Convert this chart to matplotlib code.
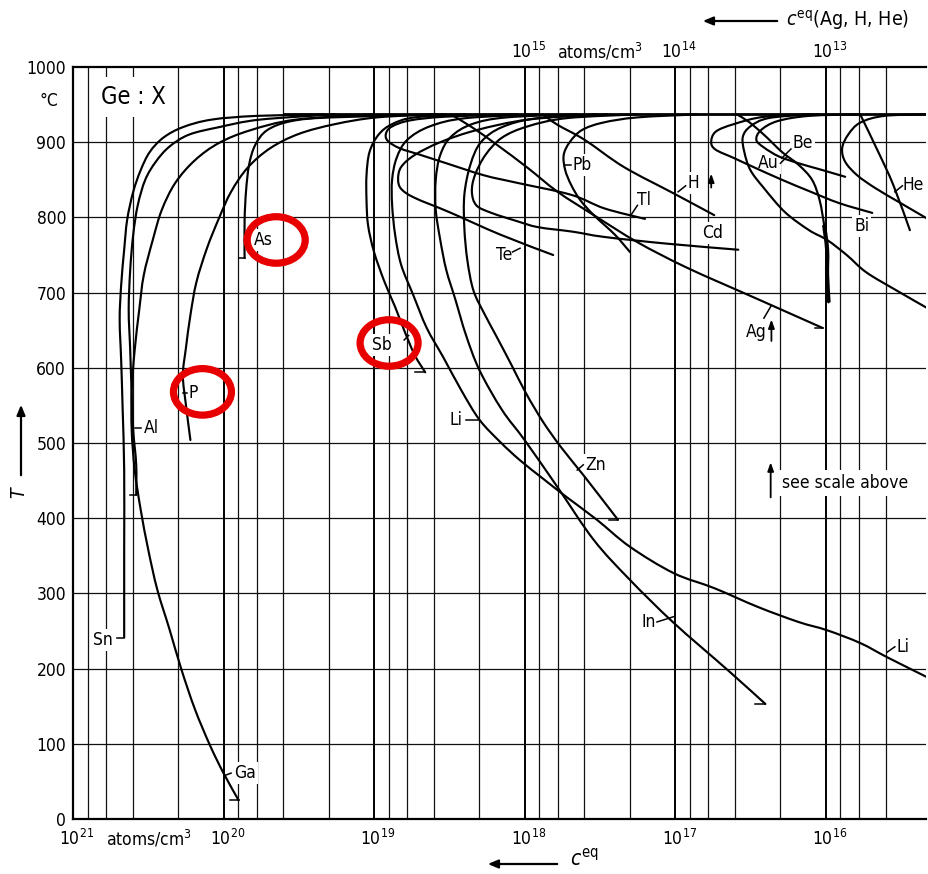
import numpy as np
import matplotlib
matplotlib.use("Agg")
import matplotlib.pyplot as plt
from matplotlib.patches import Ellipse, PathPatch, FancyArrowPatch
from matplotlib.path import Path
from matplotlib.transforms import ScaledTranslation, blended_transform_factory, offset_copy

plt.rcParams["font.family"] = ["DejaVu Sans"]
plt.rcParams["font.stretch"] = "condensed"

T_MELT = 937  # melting point of Ge in °C

# Equilibrium solubility of impurities in Ge.
# *_lg: log10 of c_eq in atoms/cm^3, *_t: temperature in °C.
sn_lg = [19.33, 19.78, 20.08, 20.27, 20.40, 20.49, 20.55, 20.60, 20.64, 20.66, 20.68, 20.69, 20.68, 20.67, 20.66, 20.66, 20.66]
sn_t = [937, 935, 930, 920, 906, 887, 863, 834, 797, 757, 710, 664, 610, 544, 464, 358, 241]

al_lg = [19.26, 19.76, 20.03, 20.23, 20.36, 20.45, 20.52, 20.57, 20.60, 20.62, 20.63, 20.62, 20.61, 20.60, 20.58, 20.58]
al_t = [937, 930, 920, 910, 894, 874, 850, 816, 777, 730, 677, 624, 564, 517, 471, 431]

ga_lg = [19.00, 19.52, 19.82, 20.03, 20.19, 20.32, 20.41, 20.47, 20.53, 20.56, 20.59, 20.61, 20.61, 20.59,
         20.55, 20.50, 20.44, 20.36, 20.28, 20.19, 20.09, 20.00, 19.90]
ga_t = [937, 930, 916, 899, 876, 846, 810, 770, 723, 677, 624, 570, 517, 464, 411, 358, 305, 253, 199, 146, 98, 61, 25]

p_lg = [18.59, 18.98, 19.26, 19.50, 19.69, 19.84, 19.95, 20.03, 20.11, 20.18, 20.22, 20.25, 20.27, 20.25, 20.22]
p_t = [937, 933, 924, 911, 892, 866, 834, 799, 759, 714, 670, 626, 590, 551, 504]

as_lg = [18.52, 19.28, 19.55, 19.71, 19.79, 19.83, 19.85, 19.86, 19.86]
as_t = [937, 933, 928, 916, 896, 870, 836, 796, 746]

sb_lg = [18.39, 18.73, 18.88, 18.97, 19.03, 19.05, 19.05, 19.04, 19.00, 18.93, 18.86, 18.80, 18.73, 18.66]
sb_t = [937, 933, 924, 910, 887, 856, 823, 790, 754, 714, 681, 650, 617, 594]

li_lg = [17.91, 18.39, 18.63, 18.78, 18.85, 18.88, 18.88, 18.86, 18.82, 18.74, 18.65, 18.54, 18.42, 18.30,
         18.16, 18.03, 17.88, 17.72, 17.52, 17.30, 17.01, 16.74, 16.45, 16.18, 15.99, 15.77, 15.59, 15.33]
li_t = [937, 932, 921, 903, 879, 850, 817, 777, 737, 697, 653, 614, 570, 531,
        501, 477, 453, 428, 398, 362, 327, 307, 282, 262, 251, 234, 215, 189]

in_lg = [17.65, 18.12, 18.35, 18.49, 18.56, 18.59, 18.59, 18.56, 18.52, 18.46, 18.39, 18.30, 18.15, 18.00,
         17.78, 17.54, 17.30, 17.01, 16.65, 16.40]
in_t = [937, 933, 924, 907, 883, 850, 810, 770, 730, 691, 644, 597, 544, 504, 441, 371, 318, 261, 198, 153]

zn_lg = [17.45, 17.91, 18.15, 18.29, 18.36, 18.40, 18.40, 18.38, 18.34, 18.27, 18.19, 18.09, 17.99, 17.88, 17.76, 17.60, 17.38]
zn_t = [937, 932, 920, 900, 870, 830, 786, 743, 703, 673, 643, 605, 566, 529, 495, 455, 398]

te_lg = [17.52, 17.98, 18.32, 18.56, 18.73, 18.82, 18.84, 18.82, 18.73, 18.50, 18.16, 17.81]
te_t = [937, 930, 916, 900, 883, 867, 851, 838, 826, 807, 777, 750]

tl_lg = [18.05, 18.52, 18.76, 18.88, 18.92, 18.91, 18.83, 18.69, 18.52, 18.27, 18.05, 17.69, 17.47, 17.20]
tl_t = [937, 934, 929, 921, 912, 902, 892, 883, 872, 856, 846, 830, 812, 798]

pb_lg = [16.85, 17.25, 17.48, 17.62, 17.70, 17.74, 17.73, 17.69, 17.63, 17.54, 17.40, 17.30]
pb_t = [937, 933, 926, 916, 900, 883, 863, 843, 823, 803, 777, 754]

cd_lg = [17.25, 17.72, 17.98, 18.15, 18.26, 18.33, 18.35, 18.32, 18.22, 18.05, 17.91, 17.68, 17.47, 17.05, 16.58]
cd_t = [937, 932, 921, 906, 883, 856, 834, 816, 806, 795, 787, 781, 774, 765, 757]

au_lg = [16.59, 16.51, 16.41, 16.29, 16.18, 16.09, 16.04, 16.01, 15.99, 15.99, 15.98]
au_t = [937, 927, 910, 887, 870, 850, 823, 790, 757, 723, 687]

be_lg = [15.77, 16.11, 16.32, 16.43, 16.46, 16.41, 16.31, 16.18, 16.04, 15.87]
be_t = [937, 935, 928, 916, 903, 893, 881, 872, 864, 854]

bi_lg = [16.04, 16.40, 16.61, 16.73, 16.76, 16.73, 16.61, 16.48, 16.29, 16.11, 15.91, 15.69]
bi_t = [937, 934, 924, 914, 900, 890, 879, 867, 850, 835, 819, 806]

# two further curves without element label
u1_lg = [16.11, 16.38, 16.50, 16.55, 16.54, 16.50, 16.41, 16.27, 16.11, 15.99, 15.86, 15.73, 15.53, 15.33]
u1_t = [937, 932, 921, 907, 887, 863, 839, 807, 783, 770, 750, 727, 703, 680]
u2_lg = [15.33, 15.61, 15.77, 15.85, 15.89, 15.87, 15.79, 15.67, 15.51, 15.33]
u2_t = [937, 935, 926, 910, 892, 874, 856, 839, 820, 799]

# Ag, H and He refer to the upper concentration scale (factor 1000 lower)
ag_lg = [15.49, 15.35, 15.18, 14.98, 14.78, 14.54, 14.25, 13.92, 13.47, 13.02]
ag_t = [937, 920, 896, 866, 834, 803, 767, 733, 693, 653]
h_lg = [14.88, 14.78, 14.60, 14.34, 14.01, 13.74]
h_t = [937, 923, 903, 867, 832, 803]
he_lg = [12.77, 12.65, 12.55, 12.44]
he_t = [937, 887, 843, 783]
TOP_SCALE = 1e3

bottom_curves = [(sn_lg, sn_t), (al_lg, al_t), (ga_lg, ga_t), (p_lg, p_t), (as_lg, as_t),
                 (sb_lg, sb_t), (li_lg, li_t), (in_lg, in_t), (zn_lg, zn_t), (te_lg, te_t),
                 (tl_lg, tl_t), (pb_lg, pb_t), (cd_lg, cd_t), (au_lg, au_t), (be_lg, be_t),
                 (bi_lg, bi_t), (u1_lg, u1_t), (u2_lg, u2_t)]
top_curves = [(ag_lg, ag_t), (h_lg, h_t), (he_lg, he_t)]

bottom_ticks = [21, 20, 19, 18, 17, 16]
top_ticks = [15, 14, 13]
t_ticks = list(range(0, 1001, 100))

X_LEFT, X_RIGHT = 1e21, 10 ** 15.333
CURVE_LW = 1.55
FS = 12.5


def smooth_path(lg, t, shift=0.0):
    """Cubic Catmull-Rom path through the given points (built in log10 space)."""
    p = np.column_stack([np.asarray(lg, float) + shift, np.asarray(t, float)])
    n = len(p)
    verts, codes = [p[0]], [Path.MOVETO]
    for i in range(n - 1):
        p0 = p[i - 1] if i > 0 else p[i]
        p3 = p[i + 2] if i + 2 < n else p[i + 1]
        verts += [p[i] + (p[i + 1] - p0) / 6.0, p[i + 1] - (p3 - p[i]) / 6.0, p[i + 1]]
        codes += [Path.CURVE4] * 3
    v = np.array(verts)
    v[:, 0] = 10.0 ** v[:, 0]
    return Path(v, codes)


fig = plt.figure(figsize=(9.29, 8.74), dpi=100)
ax = fig.add_axes([73 / 929, 55 / 874, 853 / 929, 752 / 874])
ax.set_xscale("log")
ax.set_xlim(X_LEFT, X_RIGHT)
ax.set_ylim(0, 1000)

# grid: decades, plus 2, 4, 6, 8 within each decade; every 100 °C
for e in range(15, 21):
    for m in (2, 4, 6, 8):
        v = m * 10.0 ** e
        if X_RIGHT < v < X_LEFT:
            ax.axvline(v, color="#111111", lw=0.9, zorder=1)
    if X_RIGHT < 10.0 ** e < X_LEFT:
        ax.axvline(10.0 ** e, color="#000000", lw=1.4, zorder=1)
for t in t_ticks[1:-1]:
    ax.axhline(t, color="#111111", lw=0.9, zorder=1)

for s in ("left", "bottom", "top"):
    ax.spines[s].set_linewidth(1.6)
ax.spines["right"].set_visible(False)

ax.set_xticks([])
ax.minorticks_off()
ax.set_yticks(t_ticks)
ax.set_yticklabels([str(t) for t in t_ticks], fontsize=FS)
ax.tick_params(axis="y", length=0, pad=5)

# melting line where all curves merge
ax.plot([10 ** 19.6, X_RIGHT], [T_MELT, T_MELT], color="k", lw=2.0, zorder=4)

for lg, t in bottom_curves:
    ax.add_patch(PathPatch(smooth_path(lg, t), fill=False, ec="k", lw=CURVE_LW, zorder=4,
                           joinstyle="round", capstyle="round"))
for lg, t in top_curves:
    ax.add_patch(PathPatch(smooth_path(lg, t, shift=np.log10(TOP_SCALE)), fill=False, ec="k",
                           lw=CURVE_LW, zorder=4, joinstyle="round", capstyle="round"))
# thick lower part of the Au curve
ax.add_patch(PathPatch(smooth_path(au_lg[-4:], au_t[-4:]), fill=False, ec="k", lw=3.0, zorder=4))

# curve labels: text, log10 c, T, alignment
labels = [
    ("Sn", 20.80, 238, "center"), ("Al", 20.53, 520, "left"), ("P", 20.235, 566, "left"),
    ("As", 19.80, 770, "left"), ("Ga", 19.93, 61, "left"), ("Sb", 18.95, 630, "center"),
    ("Li", 18.41, 531, "right"), ("Zn", 17.60, 471, "left"), ("In", 17.13, 262, "right"),
    ("Li", 15.53, 229, "left"), ("Te", 18.08, 750, "right"), ("Pb", 17.68, 870, "left"),
    ("Tl", 17.25, 823, "left"), ("H", 16.92, 846, "left"), ("Cd", 16.75, 779, "center"),
    ("Ag", 16.46, 648, "center"), ("Au", 16.31, 872, "right"), ("Be", 16.22, 899, "left"),
    ("Bi", 15.76, 789, "center"), ("He", 15.49, 843, "left"),
]
for txt, lg, t, ha in labels:
    ax.text(10 ** lg, t, txt, fontsize=FS, ha=ha, va="center", zorder=3,
            bbox=dict(boxstyle="square,pad=0.12", fc="white", ec="none"))

# leader strokes and end marks of the curves
leaders = [
    ((20.71, 241), (20.665, 241)), ((20.585, 520), (20.545, 520)), ((20.58, 431), (20.62, 431)),
    ((20.27, 566), (20.24, 566)), ((19.90, 746), (19.86, 746)), ((19.99, 58), (19.95, 61)),
    ((19.96, 25), (19.90, 25)), ((18.80, 637), (18.77, 643)), ((18.73, 594), (18.66, 594)),
    ((18.39, 531), (18.30, 531)), ((17.65, 464), (17.61, 471)), ((17.44, 398), (17.38, 398)),
    ((17.12, 262), (17.01, 269)), ((16.47, 153), (16.40, 153)), ((15.59, 222), (15.54, 229)),
    ((18.08, 754), (18.03, 759)), ((17.73, 870), (17.69, 870)), ((17.29, 804), (17.25, 816)),
    ((16.98, 834), (16.93, 842)), ((16.41, 666), (16.36, 683)), ((16.07, 653), (16.02, 653)),
    ((16.30, 872), (16.26, 880)), ((16.29, 879), (16.23, 891)), ((15.54, 834), (15.49, 842)),
]
for (l1, t1), (l2, t2) in leaders:
    ax.plot([10 ** l1, 10 ** l2], [t1, t2], color="k", lw=1.1, zorder=4)

# arrows marking the curves read on the upper scale
for lg, t0, t1 in [(16.76, 836, 862), (16.36, 632, 668), (16.365, 424, 478)]:
    ax.annotate("", xy=(10 ** lg, t1), xytext=(10 ** lg, t0), zorder=5,
                arrowprops=dict(arrowstyle="-|>,head_length=0.5,head_width=0.18", color="k", lw=1.3))
ax.text(10 ** 16.29, 447, "see scale above", fontsize=FS, ha="left", va="center", zorder=3,
        bbox=dict(boxstyle="square,pad=0.25", fc="white", ec="none"))
ax.text(10 ** 20.60, 960, "Ge : X", fontsize=17, ha="center", va="center", zorder=3,
        bbox=dict(boxstyle="square,pad=0.35", fc="white", ec="none"))

# concentration scales
bx = offset_copy(blended_transform_factory(ax.transData, ax.transAxes), fig=fig, x=4, y=0, units="dots")
for e in bottom_ticks:
    ax.text(10.0 ** e, -0.026, r"$\mathregular{10^{%d}}$" % e, transform=bx, fontsize=FS,
            ha="center", va="center")
ax.text(10 ** 20.52, -0.026, r"atoms/cm$\mathregular{^3}$", transform=bx, fontsize=FS,
        ha="center", va="center")
for e in top_ticks:
    ax.text(10.0 ** e * TOP_SCALE, 1.02, r"$\mathregular{10^{%d}}$" % e, transform=bx,
            fontsize=FS, ha="center", va="center")
ax.text(10 ** 17.81, 1.02, r"atoms/cm$\mathregular{^3}$", transform=bx, fontsize=FS,
        ha="left", va="center")
ax.text(-0.028, 0.955, "°C", transform=ax.transAxes, fontsize=FS, ha="center", va="center")

# axis titles with direction arrows
fig.text(570 / 929, 1 - 858 / 874, r"$c^{\mathrm{eq}}$", fontsize=15, ha="left", va="center")
fig.patches.append(FancyArrowPatch(
    (560 / 929, 1 - 864 / 874), (485 / 929, 1 - 864 / 874), transform=fig.transFigure,
    arrowstyle="-|>,head_length=6,head_width=2.5", color="k", lw=1.6))
fig.text(786 / 929, 1 - 20 / 874, r"$c^{\mathrm{eq}}$(Ag, H, He)", fontsize=14, ha="left", va="center")
fig.patches.append(FancyArrowPatch(
    (780 / 929, 1 - 21 / 874), (700 / 929, 1 - 21 / 874), transform=fig.transFigure,
    arrowstyle="-|>,head_length=6,head_width=2.5", color="k", lw=1.6))
fig.text(19 / 929, 1 - 493 / 874, "T", fontsize=14, style="italic", rotation=90,
         ha="center", va="center")
fig.patches.append(FancyArrowPatch(
    (21 / 929, 1 - 478 / 874), (21 / 929, 1 - 402 / 874), transform=fig.transFigure,
    arrowstyle="-|>,head_length=6,head_width=2.5", color="k", lw=1.6))

# red highlight rings around three labels
for lg, t in [(19.65, 770), (20.14, 568), (18.90, 633)]:
    tr = fig.dpi_scale_trans + ScaledTranslation(10 ** lg, t, ax.transData)
    ax.add_artist(Ellipse((0, 0), 0.58, 0.465, transform=tr, fill=False,
                          ec="#e80000", lw=5.2, zorder=6, clip_on=False))

fig.savefig("out.png", dpi=100)
